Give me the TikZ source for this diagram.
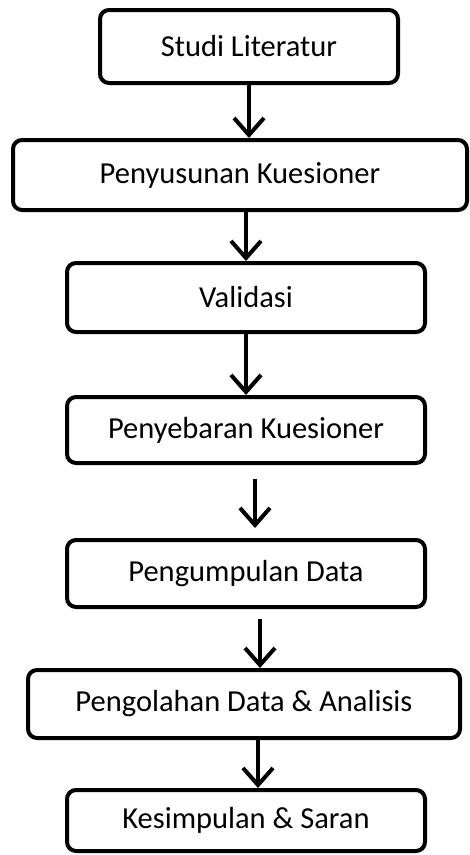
\documentclass[tikz,border=0pt]{standalone}
\usepackage{fontspec}
\setmainfont{Carlito}
\usepackage{tikz}
\usetikzlibrary{positioning,arrows.meta}

\begin{document}
\begin{tikzpicture}[x=1pt, y=-1pt,
    stepbox/.style={draw, line width=4pt, rounded corners=9pt, align=center,
        font=\fontsize{30.5}{36}\selectfont, inner sep=0pt, minimum height=68pt},
    flow/.style={line width=4pt, -{Straight Barb[length=17pt, width=30pt, line width=4pt]}}]

    % Page frame
    \useasboundingbox (0,0) rectangle (470,855);

    % Steps
    \node[stepbox, minimum width=298pt, minimum height=73pt] (studi) at (249,46.5) {Studi Literatur};
    \node[stepbox, minimum width=454pt, minimum height=70pt] (susun) at (240,175) {Penyusunan Kuesioner};
    \node[stepbox, minimum width=358pt, minimum height=69pt] (valid) at (246,297.5) {Validasi};
    \node[stepbox, minimum width=358pt, minimum height=66pt] (sebar) at (246,430) {Penyebaran Kuesioner};
    \node[stepbox, minimum width=358pt, minimum height=67pt] (kumpul) at (246,573.5) {Pengumpulan Data};
    \node[stepbox, minimum width=432pt, minimum height=68pt] (olah) at (244,704) {Pengolahan Data \& Analisis};
    \node[stepbox, minimum width=358pt, minimum height=61pt] (simpul) at (246,820.5) {Kesimpulan \& Saran};

    % Arrows
    \draw[flow] (studi.south) -- (studi.south |- susun.north);
    \draw[flow] (valid.north |- susun.south) -- (valid.north);
    \draw[flow] (valid.south) -- (sebar.north);
    \draw[flow, shorten <=14pt, shorten >=10pt] ([xshift=9pt]sebar.south) -- ([xshift=9pt]sebar.south |- kumpul.north);
    \draw[flow, shorten <=10pt] ([xshift=14pt]kumpul.south) -- ([xshift=14pt]kumpul.south |- olah.north);
    \draw[flow] ([xshift=14pt]olah.south) -- ([xshift=14pt]olah.south |- simpul.north);

\end{tikzpicture}
\end{document}
